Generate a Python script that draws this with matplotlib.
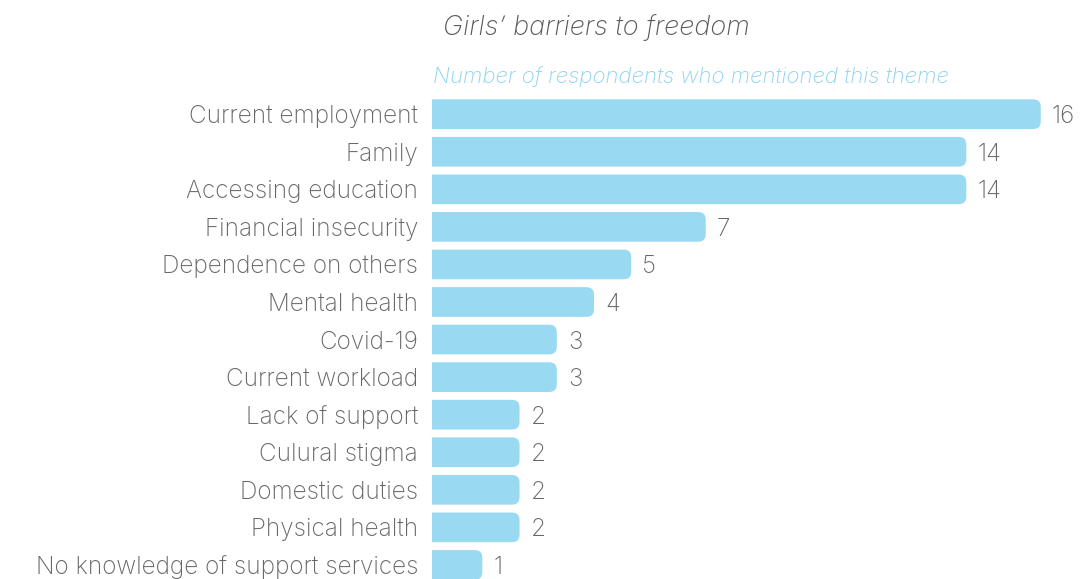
import matplotlib
matplotlib.use("Agg")
import matplotlib.pyplot as plt
from matplotlib.patches import FancyBboxPatch

categories = [
    "Current employment", "Family", "Accessing education", "Financial insecurity",
    "Dependence on others", "Mental health", "Covid-19", "Current workload",
    "Lack of support", "Culural stigma", "Domestic duties", "Physical health",
    "No knowledge of support services",
]
counts = [16, 14, 14, 7, 5, 4, 3, 3, 2, 2, 2, 2, 1]

title = "Girls\u2019 barriers to freedom"
subtitle = "Number of respondents who mentioned this theme"

BAR_COLOR = "#99d9f2"
SUB_COLOR = "#8fd3f0"
TEXT_GRAY = "#676767"
TITLE_GRAY = "#595959"
FONT = ["Inter", "DejaVu Sans"]
WEIGHT = "light"

W, H, DPI = 1080, 579, 100
fig = plt.figure(figsize=(W / DPI, H / DPI), dpi=DPI)

# axes geometry in pixels
ax_left_px, ax_right_px = 432, 1080
ax_top_px, ax_bottom_px = 95, 579
ax = fig.add_axes([ax_left_px / W, 1 - ax_bottom_px / H,
                   (ax_right_px - ax_left_px) / W, (ax_bottom_px - ax_top_px) / H])

px_per_x = 37.23      # pixels per count
zero_px = 445.1       # pixel position of zero
px_per_row = 37.56
first_row_px = 114.2

ax.set_xlim((ax_left_px - zero_px) / px_per_x, (ax_right_px - zero_px) / px_per_x)
ax.set_ylim((ax_bottom_px - first_row_px) / px_per_row, (ax_top_px - first_row_px) / px_per_row)

bar_h = 0.79
radius_px = 7.5
aspect = px_per_x / px_per_row
for i, v in enumerate(counts):
    start = -1.0
    patch = FancyBboxPatch(
        (start, i - bar_h / 2), v - start, bar_h,
        boxstyle=f"round,pad=0,rounding_size={radius_px / px_per_x}",
        mutation_aspect=aspect,
        facecolor=BAR_COLOR, edgecolor="none",
    )
    ax.add_patch(patch)
    ax.annotate(str(v), xy=(v, i), xytext=(8, 0), textcoords="offset points",
                ha="left", va="center_baseline", fontsize=17.5, color=TEXT_GRAY,
                family=FONT, fontweight=WEIGHT, annotation_clip=False)

ax.set_yticks(range(len(categories)))
ax.set_yticklabels(categories, family=FONT, fontsize=17.5, color=TEXT_GRAY,
                   fontweight=WEIGHT)
ax.tick_params(axis="y", length=0, pad=10)
ax.set_xticks([])
for s in ax.spines.values():
    s.set_visible(False)

fig.text(596 / W, 1 - 28 / H, title, ha="center", va="center", fontsize=19.5,
         style="italic", color=TITLE_GRAY, family=FONT, fontweight=WEIGHT)
fig.text(433 / W, 1 - 77 / H, subtitle, ha="left", va="center", fontsize=16,
         style="italic", color=SUB_COLOR, family=FONT, fontweight=WEIGHT)

fig.savefig("out.png", dpi=DPI)
